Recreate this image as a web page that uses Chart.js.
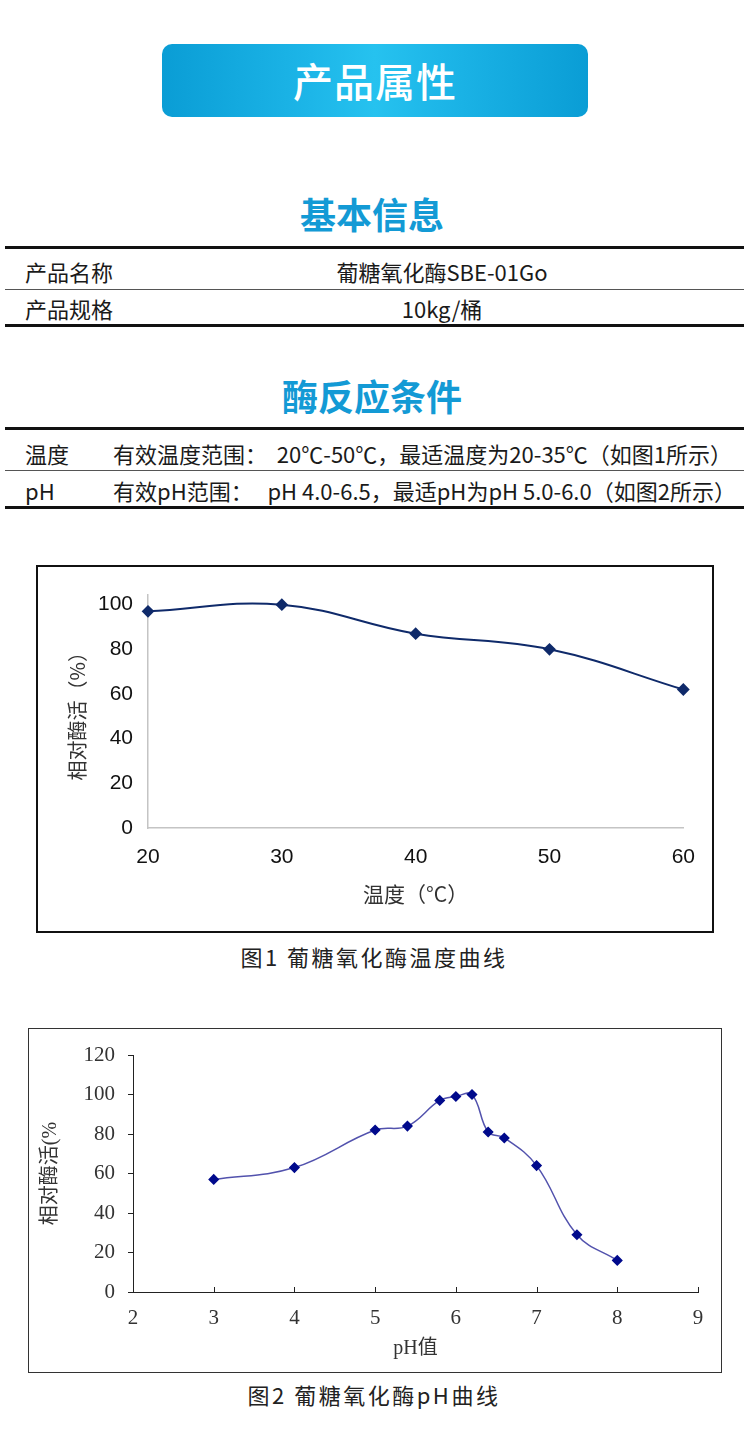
<!DOCTYPE html>
<html>
<head>
<meta charset="utf-8">
<script src="https://cdn.jsdelivr.net/npm/chart.js@4.4.1/dist/chart.umd.min.js"></script>
<style>
  html, body { margin: 0; padding: 0; background: #fff; }
  body { width: 750px; height: 1454px; position: relative; overflow: hidden;
         font-family: "Noto Sans CJK SC", "Noto Sans", sans-serif; color: #222; }
  .abs { position: absolute; }
  .banner { left: 162px; top: 44px; width: 426px; height: 73px; border-radius: 10px;
            background: linear-gradient(90deg, #0a9dd5 0%, #1db6e8 35%, #26c2ef 50%, #1db6e8 65%, #0a9dd5 100%);
            color: #fff; font-size: 40px; font-weight: 500; text-align: center; line-height: 73px; letter-spacing: 1px; }
  .sec { left: 0; width: 744px; text-align: center; color: #139ad5; font-size: 36px; font-weight: 700; line-height: 44px; }
  .thick { left: 5px; width: 739px; height: 3px; background: #111; }
  .thin { left: 5px; width: 739px; height: 1px; background: #555; }
  .cell { font-size: 22px; line-height: 30px; color: #1a1a1a; white-space: pre; }
  .val { left: 135px; width: 614px; text-align: center; }
  .box1 { left: 36px; top: 565px; width: 674px; height: 364px; border: 2px solid #111; }
  .box2 { left: 28px; top: 1028px; width: 692px; height: 343px; border: 1px solid #333; }
  .cap { left: 0; width: 748px; text-align: center; font-size: 22px; line-height: 30px; color: #222; letter-spacing: 2.5px; }
  canvas { display: block; }
</style>
</head>
<body>
<div class="abs banner">产品属性</div>

<div class="abs sec" style="top:191px;">基本信息</div>
<div class="abs thick" style="top:246px;"></div>
<div class="abs cell" style="left:25px; top:256px;">产品名称</div>
<div class="abs cell val" style="top:256px;">葡糖氧化酶SBE-01Go</div>
<div class="abs thin" style="top:289px;"></div>
<div class="abs cell" style="left:25px; top:293px;">产品规格</div>
<div class="abs cell val" style="top:293px;">10kg/桶</div>
<div class="abs thick" style="top:324px;"></div>

<div class="abs sec" style="top:373px;">酶反应条件</div>
<div class="abs thick" style="top:427px;"></div>
<div class="abs cell" style="left:25px; top:438px;">温度</div>
<div class="abs cell" style="left:113px; top:438px;">有效温度范围：  20℃-50℃，最适温度为20-35℃（如图1所示）</div>
<div class="abs thin" style="top:470px;"></div>
<div class="abs cell" style="left:25px; top:475px;">pH</div>
<div class="abs cell" style="left:113px; top:475px;">有效pH范围：   pH 4.0-6.5，最适pH为pH 5.0-6.0（如图2所示）</div>
<div class="abs thick" style="top:506px;"></div>

<div class="abs box1"><canvas id="c1" width="674" height="364"></canvas></div>
<div class="abs cap" style="top:941px;">图1 葡糖氧化酶温度曲线</div>

<div class="abs box2"><canvas id="c2" width="692" height="343"></canvas></div>
<div class="abs cap" style="top:1379px;">图2 葡糖氧化酶pH曲线</div>

<script>
// ---- Figure 1: temperature curve ----
const tempX = [20, 30, 40, 50, 60];
const tempActivity = [97, 100, 87, 80, 62];
const tempXTicks = [20, 30, 40, 50, 60];
const tempYTicks = [0, 20, 40, 60, 80, 100];
const tempXTitle = '温度（°C）';
const tempYTitle = '相对酶活（%）';

// ---- Figure 2: pH curve ----
const phX = [3, 4, 5, 5.4, 5.8, 6.0, 6.2, 6.4, 6.6, 7.0, 7.5, 8.0];
const phActivity = [57, 63, 82, 84, 97, 99, 100, 81, 78, 64, 29, 16];
const phXTicks = [2, 3, 4, 5, 6, 7, 8, 9];
const phYTicks = [0, 20, 40, 60, 80, 100, 120];
const phXTitle = 'pH值';
const phYTitle = '相对酶活(%';

const sansFont = '"Liberation Sans", Arial, "Noto Sans CJK SC", sans-serif';
const serifFont = '"Liberation Serif", "Times New Roman", "Noto Sans CJK SC", serif';

function fixTicks(list) {
  return function (scale) { scale.ticks = list.map(v => ({ value: v })); };
}

new Chart(document.getElementById('c1'), {
  type: 'line',
  data: {
    datasets: [{
      data: tempX.map((x, i) => ({ x: x, y: tempActivity[i] })),
      borderColor: '#0f2a6a',
      backgroundColor: '#0f2a6a',
      borderWidth: 2,
      tension: 0.4,
      pointStyle: 'rectRot',
      pointRadius: 5,
      pointHoverRadius: 5,
      clip: false
    }]
  },
  options: {
    responsive: false,
    animation: false,
    events: [],
    layout: { padding: { top: 23, right: 23, left: 0, bottom: 0 } },
    plugins: { legend: { display: false }, tooltip: { enabled: false } },
    scales: {
      x: {
        type: 'linear', min: 20, max: 60,
        afterBuildTicks: fixTicks(tempXTicks),
        afterFit: s => { s.height = 103; },
        grid: { drawOnChartArea: false, drawTicks: false },
        border: { display: true, color: '#c4c4c4', width: 1.5 },
        ticks: { padding: 17, color: '#111', font: { family: sansFont, size: 21 }, maxRotation: 0 },
        title: { display: true, text: tempXTitle, color: '#333', padding: { bottom: 24, top: 0 },
                 font: { family: '"Noto Sans CJK SC", sans-serif', size: 21 } }
      },
      y: {
        type: 'linear', min: 0, max: 104.5,
        afterBuildTicks: fixTicks(tempYTicks),
        afterFit: s => { s.width = 110; },
        grid: { drawOnChartArea: false, drawTicks: false },
        border: { display: true, color: '#c4c4c4', width: 1.5 },
        ticks: { padding: 15, color: '#111', font: { family: sansFont, size: 21 } },
        title: { display: true, text: tempYTitle, color: '#333', padding: { top: 27, bottom: 0 },
                 font: { family: '"Noto Sans CJK SC", sans-serif', size: 20 } }
      }
    }
  }
});

const inwardTicks = {
  id: 'inwardTicks',
  afterDraw(chart) {
    const xs = chart.scales.x, ctx = chart.ctx, bottom = chart.chartArea.bottom;
    ctx.save();
    ctx.strokeStyle = '#222';
    ctx.lineWidth = 1;
    ctx.beginPath();
    xs.ticks.forEach(t => {
      const px = Math.round(xs.getPixelForValue(t.value)) + 0.5;
      ctx.moveTo(px, bottom);
      ctx.lineTo(px, bottom - 5);
    });
    ctx.stroke();
    ctx.restore();
  }
};

new Chart(document.getElementById('c2'), {
  type: 'line',
  data: {
    datasets: [{
      data: phX.map((x, i) => ({ x: x, y: phActivity[i] })),
      borderColor: '#5252ad',
      backgroundColor: '#000a8c',
      pointBorderColor: '#000a8c',
      borderWidth: 1.5,
      tension: 0.4,
      pointStyle: 'rectRot',
      pointRadius: 4.5,
      pointHoverRadius: 4.5,
      clip: false
    }]
  },
  plugins: [inwardTicks],
  options: {
    responsive: false,
    animation: false,
    events: [],
    layout: { padding: { top: 26, right: 23, left: 0, bottom: 0 } },
    plugins: { legend: { display: false }, tooltip: { enabled: false } },
    scales: {
      x: {
        type: 'linear', min: 2, max: 9,
        afterBuildTicks: fixTicks(phXTicks),
        afterFit: s => { s.height = 80; },
        grid: { drawOnChartArea: false, drawTicks: false },
        border: { display: true, color: '#222', width: 1 },
        ticks: { padding: 14, color: '#333', font: { family: serifFont, size: 21 }, maxRotation: 0 },
        title: { display: true, text: phXTitle, color: '#333', padding: { bottom: 11, top: 0 },
                 font: { family: serifFont, size: 20 } }
      },
      y: {
        type: 'linear', min: 0, max: 120,
        afterBuildTicks: fixTicks(phYTicks),
        afterFit: s => { s.width = 104; },
        grid: { drawOnChartArea: false, drawTicks: true, tickLength: 5, color: '#222' },
        border: { display: true, color: '#222', width: 1 },
        ticks: { padding: 13, color: '#333', font: { family: serifFont, size: 21 } },
        title: { display: true, text: phYTitle, color: '#333', padding: { top: 10, bottom: 0 },
                 font: { family: serifFont, size: 20 } }
      }
    }
  }
});
</script>
</body>
</html>
